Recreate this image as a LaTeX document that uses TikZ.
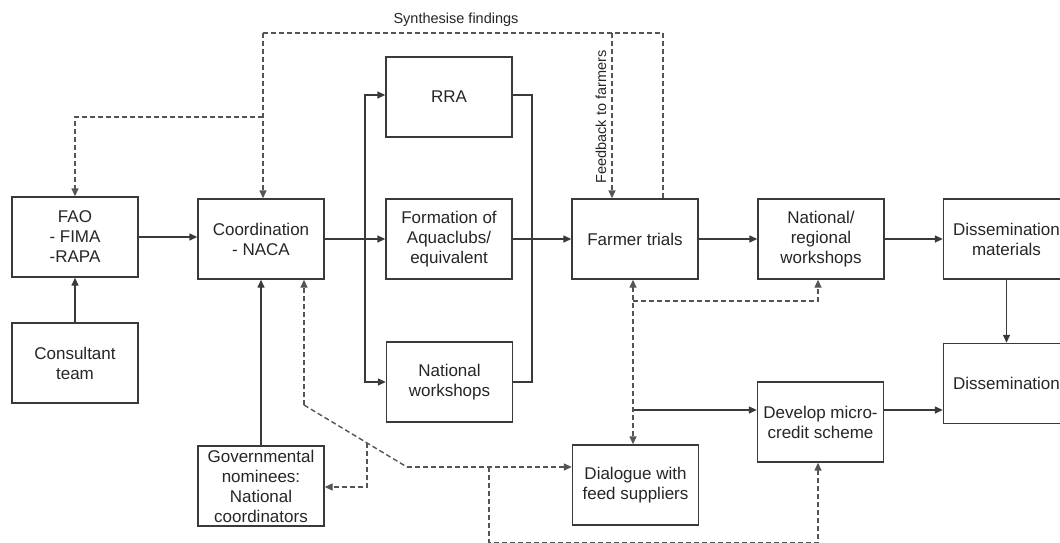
\documentclass[tikz,border=0pt]{standalone}
\usepackage{fontspec}
\setmainfont{Liberation Sans}
\usetikzlibrary{arrows.meta,calc}
\definecolor{lc}{HTML}{3A3A3A}
\definecolor{dc}{HTML}{555555}
\definecolor{tc}{HTML}{262626}
\begin{document}
\begin{tikzpicture}[x=1pt,y=-1pt,
  box/.style={draw=lc, line width=1.4pt, minimum width=126pt, minimum height=80pt, inner sep=0pt, align=center, text=tc, font=\fontsize{17}{20}\selectfont},
  ln/.style={draw=lc, line width=1.4pt},
  arr/.style={ln, -{Triangle[length=8pt,width=7pt]}},
  dl/.style={draw=dc, line width=1.4pt, dash pattern=on 5pt off 3pt},
  darr/.style={dl, -{Triangle[length=8pt,width=7pt]}},
  ddarr/.style={dl, {Triangle[length=8pt,width=7pt]}-{Triangle[length=8pt,width=7pt]}},
  lbl/.style={text=tc, font=\fontsize{14.5}{17}\selectfont, inner sep=0pt}]
\useasboundingbox (0,0) rectangle (1060,543);
\fill[white] (0,0) rectangle (1060,543);
\clip (0,0) rectangle (1060,543);

% boxes
\node[box] (fao) at (75,237) {FAO\\- FIMA\\-RAPA};
\node[box] (coord) at (261,239) {Coordination\\- NACA};
\node[box] (cons) at (75,363) {Consultant\\team};
\node[box] (gov) at (261,486) {Governmental\\nominees:\\National\\coordinators};
\node[box] (rra) at (449,97) {RRA};
\node[box] (form) at (449,239) {Formation of\\Aquaclubs/\\equivalent};
\node[box] (natws) at (449.5,382) {National\\workshops};
\node[box] (farm) at (635,239) {Farmer trials};
\node[box] (dial) at (635.5,485) {Dialogue with\\feed suppliers};
\node[box] (natreg) at (821,239) {National/\\regional\\workshops};
\node[box] (dissmat) at (1006.5,239) {Dissemination\\materials};
\node[box] (micro) at (820.5,422) {Develop micro-\\credit scheme};
\node[box] (diss) at (1006.5,383.5) {Dissemination};

% labels
\node[lbl] (syn) at (456,20) {Synthesise findings};
\node[lbl, rotate=90] (fbl) at (601,117) {Feedback to farmers};

% coordinates
\coordinate (splitL) at (365,239);
\coordinate (mergeR) at (532,239);
\coordinate (sR) at (663,33);
\coordinate (sL) at (263,33);
\coordinate (sB) at (263,117);
\coordinate (fb) at (612,33);
\coordinate (tapX) at (633,301);
\coordinate (tapM) at (633,410);
\coordinate (nrC) at (818,301);
\coordinate (cUp) at (304,405);
\coordinate (cBend) at (407,467);
\coordinate (gB) at (367,443);
\coordinate (gC) at (367,487);
\coordinate (bB) at (489,467);
\coordinate (bL) at (489,542.4);
\coordinate (bR) at (818,542.4);

% solid connectors
\draw[arr] (fao.east) -- (fao.east -| coord.west);
\draw[arr] (cons.north) -- (fao.south);
\draw[arr] (gov.north) -- (coord.south);
\draw[arr] (coord.east) -- (form.west);
\draw[arr] (splitL) |- ($(rra.west)+(0,-2)$);
\draw[arr] (splitL) |- (natws.west);
\draw[ln] ($(rra.east)+(0,-2)$) -| (mergeR) |- (natws.east);
\draw[arr] (form.east) -- (farm.west);
\draw[arr] (farm.east) -- (natreg.west);
\draw[arr] (natreg.east) -- (dissmat.west);
\draw[arr] (dissmat.south) -- (diss.north);
\draw[arr] (micro.east |- tapM) -- (diss.west |- tapM);
\draw[arr] (tapM) -- (micro.west |- tapM);

% dashed connectors
\draw[dl] (farm.north -| sR) -- (sR) -- (sL);
\draw[darr] (sL) -- (coord.north -| sL);
\draw[darr] (sB) -| (fao.north);
\draw[darr] (fb) -- (farm.north -| fb);
\draw[ddarr] (farm.south -| tapX) -- (dial.north -| tapX);
\draw[darr] (tapX) -| (natreg.south -| nrC);
\draw[darr] (cUp) -- (coord.south -| cUp);
\draw[dl] (cUp) -- (cBend);
\draw[darr] (cBend) -- (dial.west |- cBend);
\draw[darr] (gB) -- (gC) -- (gov.east |- gC);
\draw[darr] (bB) -- (bL) -- (bR) -- (micro.south -| bR);
\end{tikzpicture}
\end{document}
